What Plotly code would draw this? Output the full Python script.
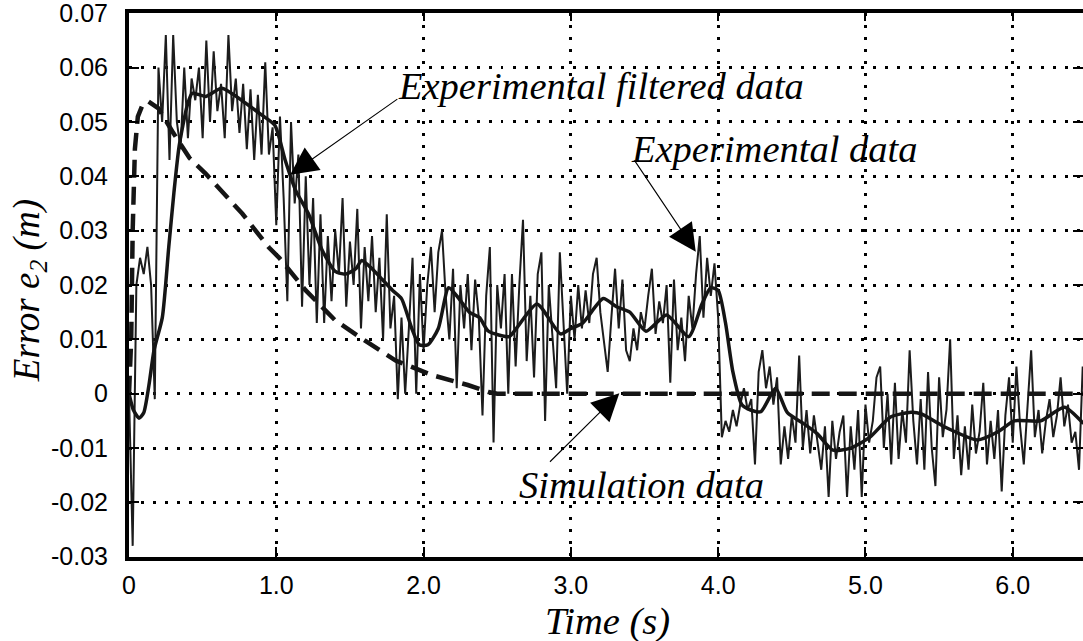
import plotly.graph_objects as go

# ---------------- data ----------------
# Experimental (raw) data, sampled every 0.025 s, values in mm
DT = 0.025
raw_mm = [
    0, -28, 20, 25, 22, 27, 20, -1, 60, 50,
    66, 43, 66, 50, 45, 60, 47, 58, 54, 60,
    47, 65, 50, 63, 52, 57, 47, 66, 52, 58,
    48, 57, 45, 56, 43, 55, 44, 61, 44, 49,
    31, 51, 36, 17, 50, 35, 44, 16, 40, 20,
    36, 13, 33, 13, 29, 17, 30, 22, 36, 16,
    28, 20, 34, 12, 27, 17, 29, 15, 25, 10,
    33, 12, 18, -1, 14, 0, 12, 25, 0, 22,
    8, 20, 27, 15, 26, 30, 18, 10, 23, 1,
    20, 12, 22, 8, 21, 14, -4, 18, 27, -9,
    20, 12, 22, 0, 22, 5, 20, 32, 6, 18,
    3, 22, 26, -5, 20, 10, 1, 26, 12, 0,
    18, 10, 20, 12, 19, 13, 22, 25, 15, 9,
    4, 14, 23, 12, 21, 8, 6, 12, 8, 15,
    12, 18, 23, 11, 17, 13, 20, 2, 21, 8,
    14, 6, 18, 12, 22, 29, 14, 25, 18, 24,
    14, -8, -5, -7, -3, -6, -2, 1, -3, -1,
    -13, 4, 8, 1, 5, -2, 3, -13, -6, -12,
    -4, -9, 7, -10, -3, -11, -4, -9, -14, -6,
    -19, -5, -12, -7, -4, -19, -6, -14, -3, -19,
    -2, -9, -5, 3, 5, -10, 0, -13, 2, -12,
    -3, -9, 8, -5, -13, -1, -14, 4, -10, -17,
    3, -8, -3, 10, -12, -4, -15, -6, -14, -2,
    -11, -7, 2, -13, -5, -12, -3, -18, -4, 3,
    -9, 5, -6, -13, -2, 8, -8, -3, -11, -5,
    -1, -8, -4, 3, -6, -2, -9, -7, -14, 5,
]
raw_t = [i * DT for i in range(len(raw_mm))]

# Experimental filtered data (time s, value mm)
filt_t = [0, 0.03, 0.068, 0.1, 0.135, 0.17, 0.226, 0.27, 0.305, 0.34,
          0.395, 0.43, 0.52, 0.63, 0.79, 0.9, 0.99, 1.06, 1.13, 1.22,
          1.31, 1.4, 1.47, 1.54, 1.58, 1.65, 1.72, 1.79, 1.85, 1.92,
          1.97, 2.03, 2.1, 2.17, 2.24, 2.31, 2.38, 2.44, 2.58, 2.63,
          2.77, 2.93, 3.0, 3.08, 3.22, 3.31, 3.4, 3.51, 3.65, 3.8,
          3.89, 3.95, 4.0, 4.05, 4.1, 4.16, 4.22, 4.29, 4.39, 4.47,
          4.58, 4.67, 4.78, 4.9, 5.03, 5.17, 5.31, 5.38, 5.53, 5.76,
          5.9, 6.01, 6.19, 6.35, 6.48]
filt_mm = [0, -3, -4.5, -3.5, 1.5, 8, 14, 27, 37, 45.5,
           53, 55.3, 54.7, 56.2, 53.5, 51.3, 49.4, 43, 37.5, 33,
           26.5, 22.5, 22, 23, 24.5, 23, 21, 19, 17.5, 12,
           9, 9, 12, 19.5, 17.5, 15, 14, 11.5, 10.5, 12,
           16.5, 11, 12, 13, 17.5, 16, 15, 11.5, 14.5, 10.5,
           16.5, 19.5, 19, 13, 4, -2, -3, -3.3, 1, -3.5,
           -5.5, -7.3, -10.4, -10, -8, -4.3, -3.4, -3.7, -6, -8.5,
           -7, -5, -5, -2.5, -5.5]

# Simulation data (time s, value mm)
sim_t = [0, 0.015, 0.025, 0.04, 0.06, 0.09, 0.13, 0.2, 0.3, 0.41,
         0.52, 0.77, 0.95, 1.02, 1.2, 1.4, 1.6, 1.81, 2.06, 2.3,
         2.44, 2.5, 6.48]
sim_mm = [0, 10, 30, 45, 51, 53, 53.8, 52.5, 48, 43.4,
          40.5, 33.1, 26.9, 25, 19, 13.5, 9.8, 6.1, 3.4, 1.6,
          0.3, 0, 0]

x_ticks = [0, 1, 2, 3, 4, 5, 6]
x_ticktext = ["0", "1.0", "2.0", "3.0", "4.0", "5.0", "6.0"]
y_ticks = [-0.03, -0.02, -0.01, 0, 0.01, 0.02, 0.03, 0.04, 0.05, 0.06, 0.07]
y_ticktext = ["-0.03", "-0.02", "-0.01", "0", "0.01", "0.02", "0.03",
              "0.04", "0.05", "0.06", "0.07"]

X_RANGE = [0, 6.477]
Y_RANGE = [-0.03005, 0.07005]

# ---------------- figure ----------------
fig = go.Figure()
fig.add_trace(go.Scatter(x=raw_t, y=[v / 1000 for v in raw_mm], mode="lines",
                         line=dict(color="#1c1c1c", width=2), showlegend=False))
fig.add_trace(go.Scatter(x=filt_t, y=[v / 1000 for v in filt_mm], mode="lines",
                         line=dict(color="#151515", width=3.5, shape="spline", smoothing=0.6),
                         showlegend=False))
fig.add_trace(go.Scatter(x=sim_t, y=[v / 1000 for v in sim_mm], mode="lines",
                         line=dict(color="#151515", width=4.5, dash="18px,9px"),
                         showlegend=False))
# helper trace so the mirrored tick axes are drawn
fig.add_trace(go.Scatter(x=[0, 1], y=[0, 0], yaxis="y2", xaxis="x2", mode="lines",
                         line=dict(width=0), opacity=0, hoverinfo="skip", showlegend=False))

grid_dash = "2.5px,9.5px"
tickfont = dict(family="Liberation Sans, Arial, sans-serif", size=25, color="black")

fig.update_layout(
    width=1083, height=641,
    margin=dict(l=129, r=0, t=13, b=84),
    paper_bgcolor="white", plot_bgcolor="white",
    xaxis=dict(range=X_RANGE, tickvals=x_ticks, ticktext=x_ticktext,
               showline=True, linecolor="black", linewidth=4,
               ticks="inside", ticklen=10, tickwidth=1.5, tickcolor="black",
               showgrid=True, gridcolor="black", gridwidth=2.5, griddash=grid_dash,
               zeroline=False, tickfont=tickfont, ticklabelstandoff=3),
    xaxis2=dict(range=X_RANGE, overlaying="x", side="top", tickvals=x_ticks,
                showticklabels=False, showline=True, linecolor="black", linewidth=4,
                ticks="inside", ticklen=8, tickwidth=1.5, tickcolor="black",
                showgrid=False, zeroline=False),
    yaxis=dict(range=Y_RANGE, tickvals=y_ticks, ticktext=y_ticktext,
               showline=True, linecolor="black", linewidth=4,
               ticks="inside", ticklen=10, tickwidth=1.5, tickcolor="black",
               showgrid=True, gridcolor="black", gridwidth=2.5, griddash=grid_dash,
               zeroline=False, tickfont=tickfont, ticklabelstandoff=12,
               ticklabeloverflow="allow"),
    yaxis2=dict(range=Y_RANGE, overlaying="y", side="right", tickvals=y_ticks,
                showticklabels=False, showline=False,
                ticks="inside", ticklen=10, tickwidth=2, tickcolor="black",
                showgrid=False, zeroline=False),
)

serif = dict(family="Liberation Serif, Times New Roman, serif", size=38.5, color="black")
serif_y = dict(family="Liberation Serif, Times New Roman, serif", size=37, color="black")

ann = []
# axis titles
ann.append(dict(text="<i>Time (s)</i>", xref="paper", yref="paper", x=0.502, y=-0.118,
                xanchor="center", yanchor="middle", showarrow=False, font=serif))
ann.append(dict(text="<i>Error e<sub>2</sub> (m)</i>", xref="paper", yref="paper",
                x=-0.104, y=0.49, xanchor="center", yanchor="middle", textangle=-90,
                showarrow=False, font=serif_y))
# labels
ann.append(dict(text="<i>Experimental filtered data</i>", x=3.207, y=0.0566,
                xanchor="center", yanchor="middle", showarrow=False, font=serif))
ann.append(dict(text="<i>Experimental data</i>", x=4.38, y=0.0450,
                xanchor="center", yanchor="middle", showarrow=False, font=serif))
ann.append(dict(text="<i>Simulation data</i>", x=3.478, y=-0.0168,
                xanchor="center", yanchor="middle", showarrow=False, font=serif))
# arrows (head at x,y ; tail at ax,ay)
for (hx, hy, tx, ty) in [(1.094, 0.0403, 1.832, 0.0544),
                         (3.848, 0.0261, 3.425, 0.0432),
                         (3.329, 0.0001, 2.848, -0.0128)]:
    ann.append(dict(text="", x=hx, y=hy, ax=tx, ay=ty, axref="x", ayref="y",
                    xref="x", yref="y", showarrow=True, arrowhead=2, arrowsize=5,
                    arrowwidth=1.1, arrowcolor="black"))
fig.update_layout(annotations=ann)

fig.write_html("out.html")
